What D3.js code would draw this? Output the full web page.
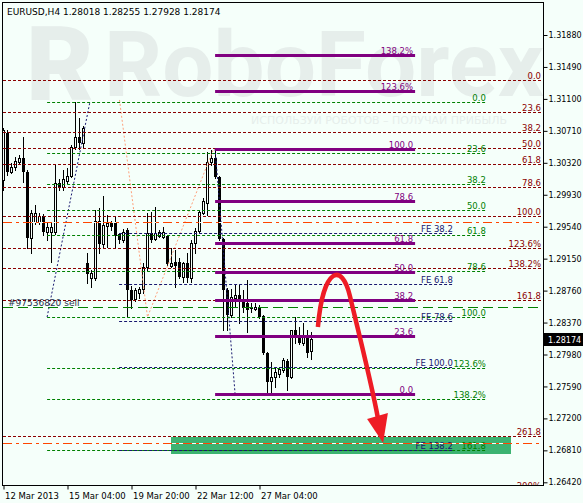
<!DOCTYPE html>
<html>
<head>
<meta charset="utf-8">
<script src="https://cdnjs.cloudflare.com/ajax/libs/d3/7.8.5/d3.min.js"></script>
<style>
  body { margin: 0; background: #f5fffa; }
  svg { display: block; }
</style>
</head>
<body>
<div id="chart"></div>
<script>
// EURUSD H4 bars, 12 Mar 12:00 .. 28 Mar 2013
const opens = [
  1.30110, 1.30684, 1.30207, 1.30268, 1.30330, 1.30378, 1.30207, 1.29402, 1.29597, 1.29597,
  1.29670, 1.29475, 1.29475, 1.29475, 1.30073, 1.30024, 1.30098, 1.30159, 1.30513, 1.30635,
  1.30561, 1.29097, 1.28913, 1.28913, 1.29609, 1.29329, 1.29548, 1.29585, 1.29585, 1.29451,
  1.29377, 1.29499, 1.28767, 1.28657, 1.28730, 1.28779, 1.29048, 1.29463, 1.29390, 1.29426,
  1.29414, 1.29426, 1.29060, 1.29109, 1.29109, 1.28926, 1.29097, 1.28913, 1.29341, 1.29487,
  1.29707, 1.29829, 1.30330, 1.30378, 1.30146, 1.29390, 1.28767, 1.28462, 1.28669, 1.28706,
  1.28657, 1.28608, 1.28547, 1.28535, 1.28559, 1.28450, 1.27998, 1.27656, 1.27705, 1.27742,
  1.27790, 1.27900, 1.27705, 1.28279, 1.28205, 1.28120, 1.28218, 1.28018];
const highs = [
  1.30745, 1.30720, 1.30317, 1.30391, 1.30415, 1.30635, 1.30232, 1.29744, 1.29805, 1.29707,
  1.29695, 1.29585, 1.29597, 1.30293, 1.30122, 1.30232, 1.30256, 1.30537, 1.31062, 1.30867,
  1.30769, 1.29219, 1.29011, 1.29744, 1.29768, 1.29914, 1.29683, 1.29609, 1.29670, 1.29463,
  1.29512, 1.29524, 1.28816, 1.28791, 1.28804, 1.29097, 1.29707, 1.29719, 1.29780, 1.29499,
  1.29536, 1.29438, 1.29280, 1.29255, 1.29158, 1.29109, 1.29219, 1.29377, 1.29524, 1.29744,
  1.29890, 1.30452, 1.30476, 1.30500, 1.30159, 1.29402, 1.28791, 1.28779, 1.28828, 1.28828,
  1.28767, 1.28889, 1.28608, 1.28608, 1.28584, 1.28462, 1.28010, 1.27888, 1.27827, 1.27827,
  1.27937, 1.27925, 1.28279, 1.28437, 1.28315, 1.28364, 1.28279, 1.28255];
const lows = [
  1.29988, 1.30171, 1.30195, 1.30232, 1.30317, 1.30085, 1.29280, 1.29219, 1.29573, 1.29573,
  1.29438, 1.29377, 1.29109, 1.29451, 1.29988, 1.29988, 1.30073, 1.30146, 1.30488, 1.30488,
  1.30500, 1.28852, 1.28804, 1.28889, 1.29219, 1.29292, 1.29292, 1.29499, 1.29292, 1.29341,
  1.29353, 1.28450, 1.28547, 1.28633, 1.28669, 1.28730, 1.29011, 1.29353, 1.29377, 1.29414,
  1.29402, 1.29072, 1.29048, 1.28804, 1.28913, 1.28865, 1.28865, 1.28865, 1.29219, 1.29463,
  1.29695, 1.29683, 1.30293, 1.30134, 1.29377, 1.28279, 1.28279, 1.28437, 1.28559, 1.28364,
  1.28498, 1.28254, 1.28498, 1.28523, 1.28425, 1.27986, 1.27522, 1.27510, 1.27583, 1.27705,
  1.27766, 1.27546, 1.27693, 1.28120, 1.28108, 1.28096, 1.27949, 1.27928];
const closes = [
  1.30720, 1.30207, 1.30268, 1.30342, 1.30378, 1.30207, 1.29402, 1.29707, 1.29707, 1.29670,
  1.29475, 1.29536, 1.29536, 1.30073, 1.30012, 1.30122, 1.30159, 1.30513, 1.30635, 1.30561,
  1.30745, 1.28962, 1.28975, 1.29609, 1.29329, 1.29560, 1.29585, 1.29536, 1.29426, 1.29377,
  1.29475, 1.28767, 1.28645, 1.28767, 1.28779, 1.29048, 1.29463, 1.29377, 1.29463, 1.29475,
  1.29475, 1.29084, 1.29097, 1.29060, 1.28926, 1.29097, 1.28913, 1.29341, 1.29487, 1.29719,
  1.29853, 1.30330, 1.30378, 1.30146, 1.29390, 1.28767, 1.28462, 1.28682, 1.28706, 1.28645,
  1.28547, 1.28523, 1.28535, 1.28559, 1.28437, 1.27998, 1.27644, 1.27705, 1.27766, 1.27803,
  1.27913, 1.27705, 1.28279, 1.28193, 1.28120, 1.28218, 1.27998, 1.28174];

const tickBars = [0, 16, 32, 48, 64];
const tickLabels = ["12 Mar 2013", "15 Mar 04:00", "19 Mar 20:00", "22 Mar 12:00", "27 Mar 04:00"];
const priceTicks = [1.31880, 1.31490, 1.31100, 1.30710, 1.30320, 1.29930, 1.29540, 1.29150,
  1.28760, 1.28370, 1.27980, 1.27590, 1.27200, 1.26810, 1.26420];

// fibonacci objects: price of 0% and 100%, levels and labels
const redFibPrices = [1.31330, 1.29670];
const redFibLevels = [0, 23.6, 38.2, 50, 61.8, 78.6, 100, 123.6, 138.2, 161.8, 261.8];
const redFibLabels = ["0.0", "23.6", "38.2", "50.0", "61.8", "78.6", "100.0", "123.6%", "138.2%", "161.8", "261.8"];

const greenFibPrices = [1.31062, 1.28437];
const greenFibLevels = [0, 23.6, 38.2, 50, 61.8, 78.6, 100, 123.6, 138.2, 161.8];
const greenFibLabels = ["0.0", "23.6", "38.2", "50.0", "61.8", "78.6", "100.0", "123.6%", "138.2%", "161.8"];
const greenFibBars = [10.9, 120.6];
const greenFibTrend = [[10.9, 1.28437], [21.6, 1.31062]];

const purpleFibPrices = [1.27497, 1.30488];
const purpleFibLevels = [0, 23.6, 38.2, 50, 61.8, 78.6, 100, 123.6, 138.2];
const purpleFibLabels = ["0.0", "23.6", "38.2", "50.0", "61.8", "78.6", "100.0", "123.6%", "138.2%"];
const purpleFibBars = [52.9, 102.9];
const purpleFibTrend = [[52.9, 1.30488], [57.9, 1.27497]];

const expPrices = [1.30476, 1.27826];
const expLevels = [38.2, 61.8, 78.6, 100, 138.2];
const expLabels = ["FE 38.2", "FE 61.8", "FE 78.6", "FE 100.0", "FE 138.2"];
const expBars = [28.9, 112.6];
const expPoints = [[29, 1.31087], [36, 1.28437], [52.4, 1.30476]];

const orderPrice = 1.28559;
const orderLabel = "#97536820 sell";
const stopPrices = [1.29597, 1.26899];
const zoneBars = [41.9, 126.9];
const zonePrices = [1.26765, 1.26973];

// forecast arrow: path points [bar, price]
const arrowCurve = [[78.6, 1.28315], [79.9, 1.29048], [84.6, 1.29109], [86.6, 1.28694],
  [88.4, 1.28328], [92.1, 1.27607], [93.6, 1.27205]];
const arrowHead = [[90.9, 1.27192], [94.9, 1.26899], [96.1, 1.27266]];

const width = 583;
const height = 503;
const plot = { left: 3, top: 3, right: 543, bottom: 485 };
const bg = "#f5fffa";
const font = "'DejaVu Sans', sans-serif";

const x = d3.scaleLinear().domain([0, 77]).range([3.5, 311.5]);
const y = d3.scaleLinear().domain([1.26420, 1.31880]).range([482.3, 35]);
const py = p => Math.round(y(p)) + 0.5;
const levelPrice = (prices, lvl) => prices[0] + (prices[1] - prices[0]) * lvl / 100;

const svg = d3.select("#chart")
  .append("svg")
  .attr("width", width)
  .attr("height", height)
  .style("background", bg);

svg.append("clipPath").attr("id", "plotclip")
  .append("rect")
  .attr("x", plot.left).attr("y", plot.top)
  .attr("width", plot.right - plot.left).attr("height", plot.bottom - plot.top);

const g = svg.append("g").attr("clip-path", "url(#plotclip)");

// watermark
const wm = "#e6eeeb";
g.append("text")
  .attr("x", 26).attr("y", 100)
  .style("font-family", "Roboto, sans-serif").style("font-weight", 900)
  .style("font-size", "104px").style("fill", wm)
  .text("R");
g.append("text")
  .attr("x", 104).attr("y", 96)
  .attr("textLength", 440).attr("lengthAdjust", "spacingAndGlyphs")
  .style("font-family", "Roboto, sans-serif").style("font-weight", 700)
  .style("font-size", "90px").style("fill", wm)
  .text("RoboForex");
g.append("text")
  .attr("x", 507).attr("y", 124)
  .attr("text-anchor", "end")
  .style("font-family", font).style("font-size", "11px").style("fill", wm)
  .text("ИСПОЛЬЗУЙ РОБОТОВ – ПОЛУЧАЙ ПРИБЫЛЬ");

// green zone
g.append("rect")
  .attr("x", Math.round(x(zoneBars[0])))
  .attr("y", Math.round(y(zonePrices[1])))
  .attr("width", Math.round(x(zoneBars[1])) - Math.round(x(zoneBars[0])))
  .attr("height", Math.round(y(zonePrices[0])) - Math.round(y(zonePrices[1])))
  .style("fill", "#3cb371");

function hline(price, x1, x2, color, dash, w) {
  g.append("line")
    .attr("x1", x1).attr("x2", x2)
    .attr("y1", py(price)).attr("y2", py(price))
    .style("stroke", color)
    .style("stroke-width", w || 1)
    .style("stroke-dasharray", dash || null);
}

function label(txt, xr, price, color) {
  g.append("text")
    .attr("x", xr).attr("y", py(price) - 2)
    .attr("text-anchor", "end")
    .style("font-family", font).style("font-size", "8.5px")
    .style("fill", color)
    .text(txt);
}

function fib(prices, levels, labels, x1, x2, xl, color, dash, w) {
  levels.forEach((lvl, i) => {
    const p = levelPrice(prices, lvl);
    hline(p, x1, x2, color, dash, w);
    label(labels[i], xl, p, color);
  });
}

// candles
const bars = d3.range(opens.length);
const cx = i => Math.round(x(i) - 0.5) + 0.5;

g.selectAll(".wick")
  .data(bars)
  .enter()
  .append("line")
  .attr("class", "wick")
  .attr("x1", cx).attr("x2", cx)
  .attr("y1", i => Math.round(y(highs[i])))
  .attr("y2", i => Math.round(y(lows[i])) + 1)
  .style("stroke", "#000");

g.selectAll(".body")
  .data(bars)
  .enter()
  .append("rect")
  .attr("class", "body")
  .each(function (i) {
    const top = Math.round(y(Math.max(opens[i], closes[i])));
    const bot = Math.round(y(Math.min(opens[i], closes[i])));
    const up = closes[i] >= opens[i];
    const r = d3.select(this);
    if (up) {
      r.attr("x", cx(i) - 1).attr("y", top + 0.5)
        .attr("width", 2).attr("height", Math.max(bot - top, 0))
        .style("fill", bg).style("stroke", "#000");
    } else {
      r.attr("x", cx(i) - 1.5).attr("y", top)
        .attr("width", 3).attr("height", Math.max(bot - top, 1))
        .style("fill", "#000");
    }
  });

// trend lines of the objects
const trend = (pts, color, dash) => g.append("path")
  .attr("d", d3.line().x(d => x(d[0])).y(d => y(d[1]))(pts))
  .style("fill", "none").style("stroke", color)
  .style("stroke-dasharray", dash);

trend(greenFibTrend, "#191970", "2,2");
trend(purpleFibTrend, "#191970", "2,2");
trend(expPoints, "#ffa07a", "2,2");

// horizontal levels
fib(redFibPrices, redFibLevels, redFibLabels, plot.left, plot.right, plot.right - 2, "#8b0000", "3,2");
fib(greenFibPrices, greenFibLevels, greenFibLabels, x(greenFibBars[0]), x(greenFibBars[1]),
  x(greenFibBars[1]), "#008000", "3,2");
fib(expPrices, expLevels, expLabels, x(expBars[0]), x(expBars[1]), x(expBars[1]) - 1, "#191970", "3,2");
fib(purpleFibPrices, purpleFibLevels, purpleFibLabels, x(purpleFibBars[0]), x(purpleFibBars[1]),
  x(purpleFibBars[1]) - 2, "#800080", null, 3);

stopPrices.forEach(p => {
  hline(p, plot.left, plot.right, bg, null, 1);
  hline(p, plot.left, plot.right, "#ff4500", "9,4,3,4", 1);
});

hline(orderPrice, plot.left, plot.right, "#008000", "10,5", 1);
g.append("text")
  .attr("x", 8).attr("y", py(orderPrice) - 2)
  .style("font-family", font).style("font-size", "9px").style("fill", "#2a3450")
  .text(orderLabel);

g.append("text")
  .attr("x", plot.right - 2).attr("y", plot.bottom + 4)
  .attr("text-anchor", "end")
  .style("font-family", font).style("font-size", "8.5px").style("fill", "#8b0000")
  .text("200%");

// forecast arrow
const ap = arrowCurve.map(d => [x(d[0]), y(d[1])]);
g.append("path")
  .attr("d", `M${ap[0]}C${ap[1]} ${ap[2]} ${ap[3]}C${ap[4]} ${ap[5]} ${ap[6]}`)
  .style("fill", "none").style("stroke", "#ee1c25").style("stroke-width", 4.5);
g.append("path")
  .attr("d", d3.line().x(d => x(d[0])).y(d => y(d[1]))(arrowHead) + "Z")
  .style("fill", "#ee1c25");

// frame
svg.append("rect")
  .attr("x", plot.left - 0.5).attr("y", plot.top - 0.5)
  .attr("width", plot.right - plot.left + 1).attr("height", plot.bottom - plot.top + 1)
  .style("fill", "none").style("stroke", "#000");

// axes
const yAxis = svg.append("g")
  .attr("transform", `translate(${plot.right + 0.5},0)`)
  .call(d3.axisRight(y).tickValues(priceTicks).tickSize(4).tickPadding(1)
    .tickFormat(d3.format(".5f")));
yAxis.select(".domain").remove();
yAxis.selectAll("text").style("font-family", font).style("font-size", "8px").style("fill", "#000");

const xAxis = svg.append("g")
  .attr("transform", `translate(0,${plot.bottom + 0.5})`)
  .call(d3.axisBottom(x).tickValues(tickBars).tickSize(4).tickPadding(3)
    .tickFormat((d, i) => tickLabels[i]));
xAxis.select(".domain").remove();
xAxis.selectAll("text").attr("text-anchor", "start").attr("dx", 1)
  .style("font-family", font).style("font-size", "8.5px").style("fill", "#000");

// current price tag
const last = closes[closes.length - 1];
svg.append("rect")
  .attr("x", plot.right + 1).attr("y", Math.round(y(last)) - 6)
  .attr("width", width - plot.right - 1).attr("height", 13)
  .style("fill", "#000");
svg.append("text")
  .attr("x", plot.right + 5).attr("y", Math.round(y(last)) + 3.5)
  .style("font-family", font).style("font-size", "8px").style("fill", "#fff")
  .text(d3.format(".5f")(last));

// title
svg.append("text")
  .attr("x", 7).attr("y", 15)
  .style("font-family", font).style("font-size", "9px").style("fill", "#000")
  .text(`EURUSD,H4  ${opens[77].toFixed(5)} ${highs[77].toFixed(5)} ${lows[77].toFixed(5)} ${closes[77].toFixed(5)}`);
</script>
</body>
</html>
